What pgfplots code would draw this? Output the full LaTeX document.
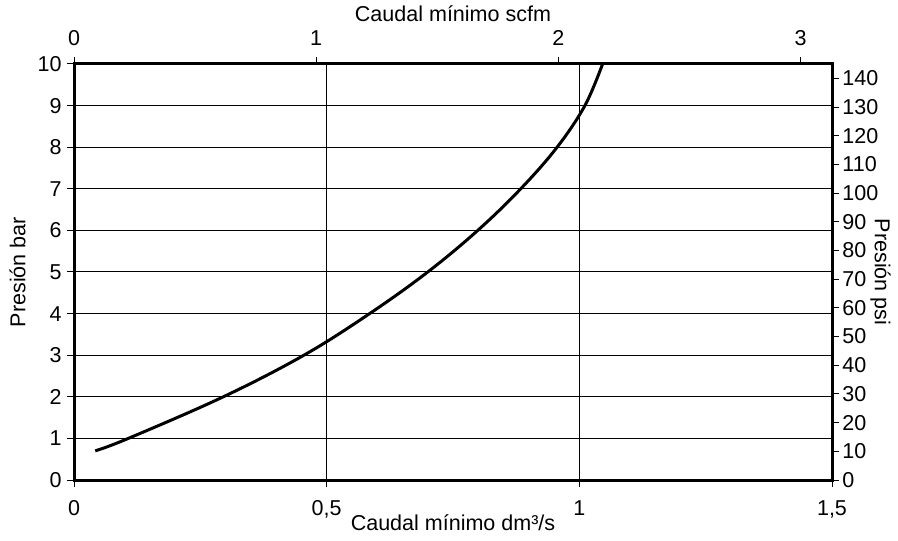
\documentclass[border=0pt]{standalone}
\usepackage{fontspec}
\setmainfont{Liberation Sans}
\usepackage{pgfplots}
\pgfplotsset{compat=1.18}
\begin{document}
\begin{tikzpicture}
\pgfplotsset{
  every axis/.append style={
    scale only axis, width=379bp, height=208bp,
    /pgf/number format/assume math mode=true,
    tick align=outside, major tick length=3.5bp,
    tick style={line width=0.5bp, black},
    tick label style={font=\fontsize{10.8}{12}\selectfont},
    label style={font=\fontsize{10.8}{12}\selectfont},
  }
}
\begin{axis}[
  name=main,
  xmin=0, xmax=1.5, ymin=0, ymax=10,
  axis line style={line width=1.5bp},
  xtick={0,0.5,1,1.5}, xticklabels={0,{0,5},1,{1,5}},
  ytick={0,1,...,10},
  xtick pos=bottom, ytick pos=left,
  grid=major, major grid style={line width=0.5bp, black},
  xticklabel style={anchor=base, yshift=-14bp, inner sep=0pt},
  yticklabel style={anchor=east, xshift=-2.5bp, inner sep=0pt},
  xlabel={Caudal mínimo dm³/s},
  xlabel style={at={(rel axis cs:0.5,-0.1202)}, anchor=base, inner sep=0pt},
  ylabel={Presión bar},
  ylabel style={at={(rel axis cs:-0.0745,0.5)}, anchor=center, inner sep=0pt},
]
\addplot[line width=1.5bp, smooth, tension=0.6] coordinates {
  (0.042,0.70) (0.1075,1) (0.2955,2) (0.455,3) (0.585,4)
  (0.700,5) (0.799,6) (0.884,7) (0.956,8) (1.011,9) (1.046,10)
};
\end{axis}
\begin{axis}[
  xmin=0, xmax=3.1296, ymin=0, ymax=1,
  axis x line*=top, axis y line=none,
  axis line style={line width=1.5bp},
  xtick={0,1,2,3},
  xticklabel style={anchor=base, yshift=5.5bp, inner sep=0pt},
  xlabel={Caudal mínimo scfm},
  xlabel style={at={(rel axis cs:0.5,1.101)}, anchor=base, inner sep=0pt},
]
\end{axis}
\begin{axis}[
  xmin=0, xmax=1, ymin=0, ymax=145,
  axis y line*=right, axis x line=none,
  axis line style={line width=1.5bp},
  ytick={0,10,...,140},
  yticklabel style={anchor=west, xshift=1.5bp, inner sep=0pt},
  ylabel={Presión psi},
  ylabel style={rotate=180, at={(rel axis cs:1.064,0.5)}, anchor=center, inner sep=0pt},
]
\end{axis}
\path (main.south west) ++(-37bp,-30.5bp) coordinate (bl);
\path (main.north east) ++(33bp,32bp) coordinate (tr);
\pgfresetboundingbox
\useasboundingbox (bl) rectangle (tr);
\end{tikzpicture}
\end{document}
